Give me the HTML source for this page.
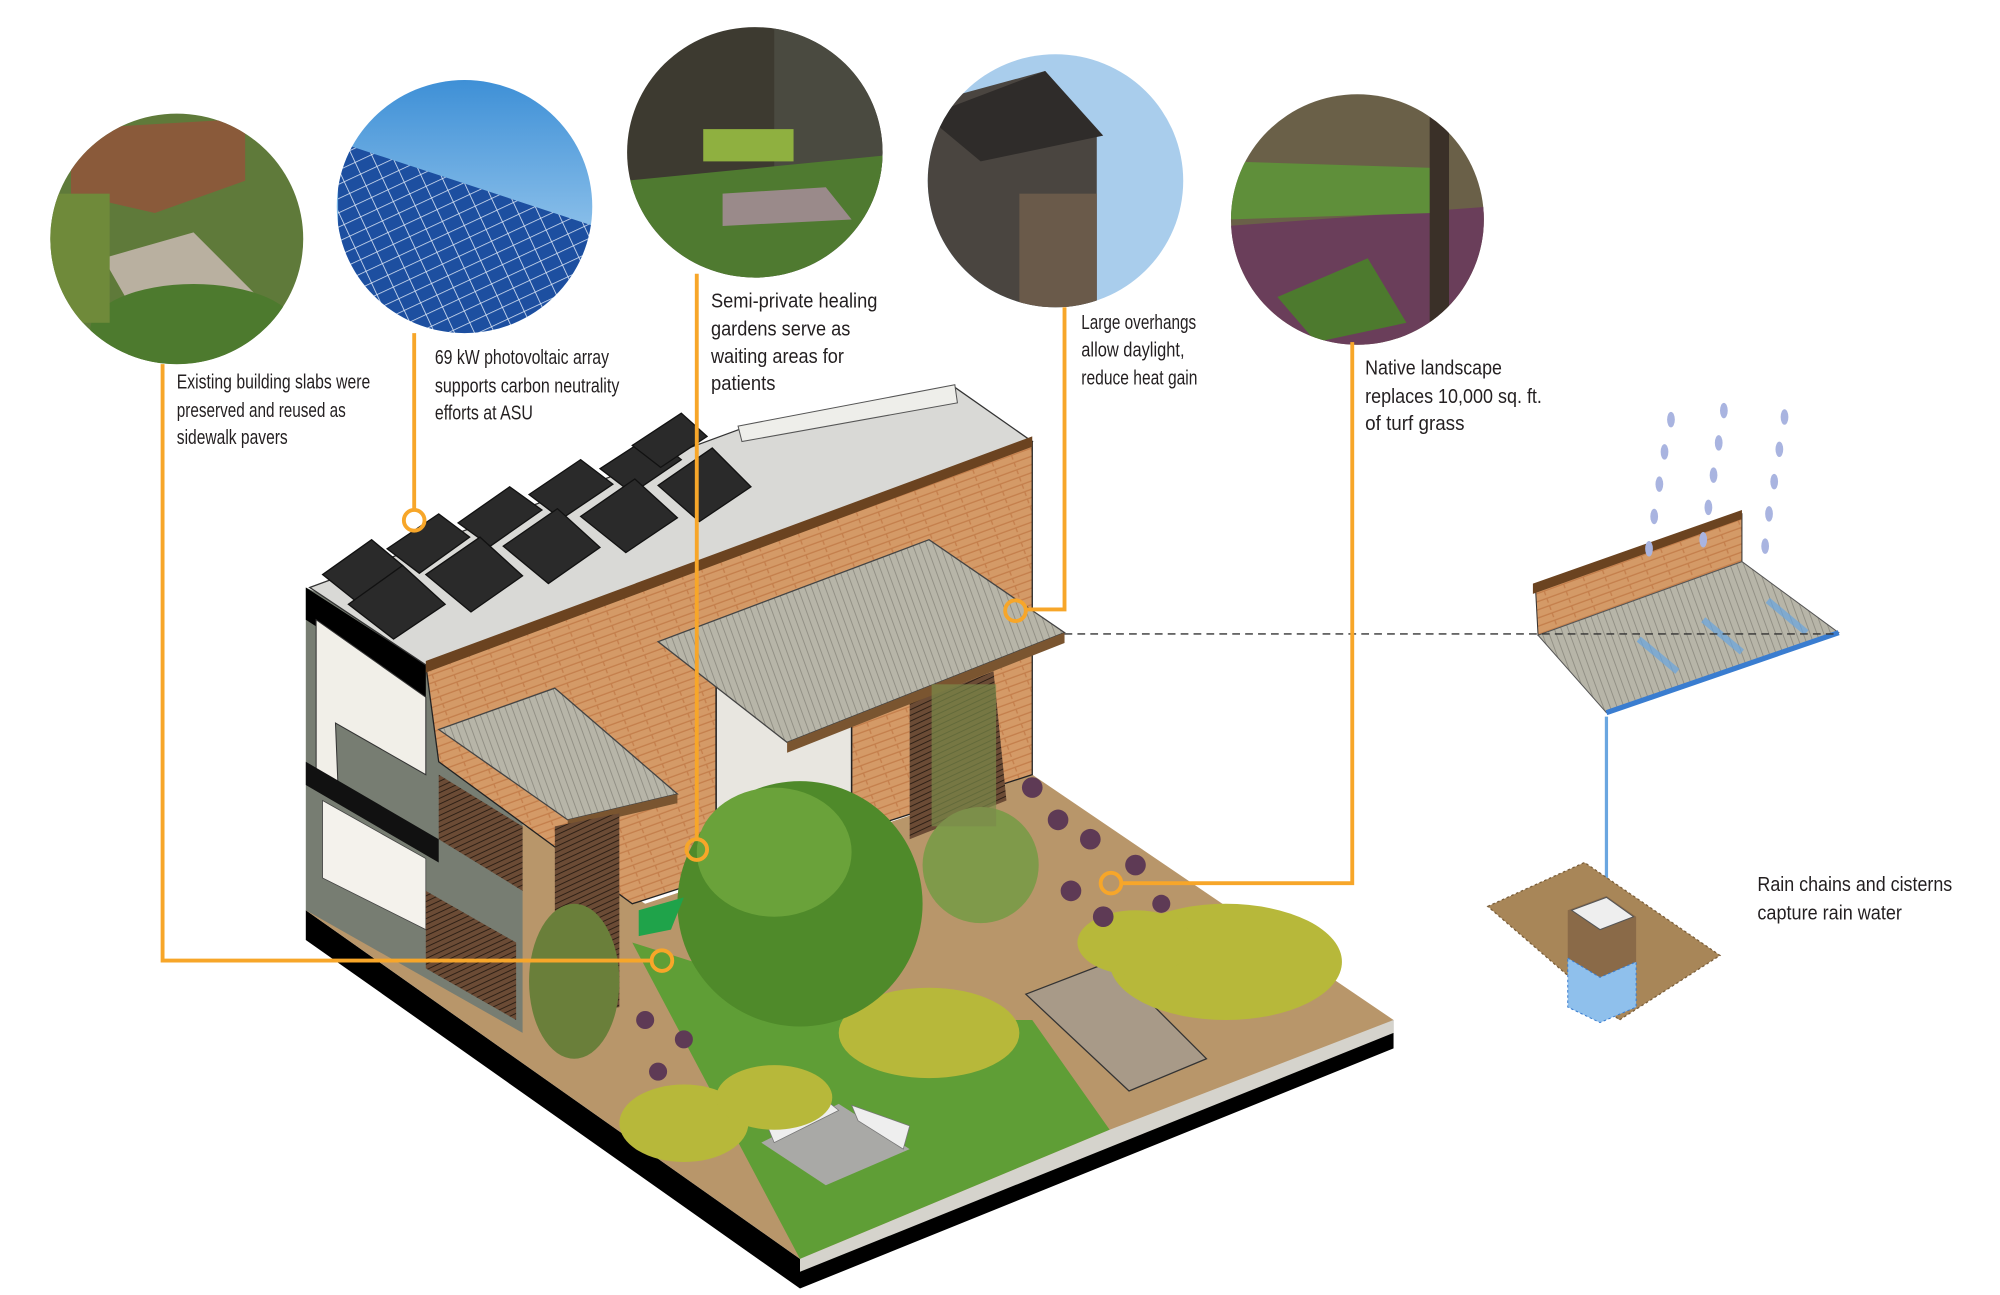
<!DOCTYPE html>
<html><head><meta charset="utf-8"><style>
html,body{margin:0;padding:0;background:#fff;}
svg{display:block;}
.t{font-family:"Liberation Sans",sans-serif;font-size:15.5px;fill:#231f20;}
</style></head><body>
<svg width="2000" height="1295" viewBox="0 0 1550 1003" preserveAspectRatio="none" xmlns="http://www.w3.org/2000/svg">
<defs>
<linearGradient id="sky" x1="0" y1="0" x2="0" y2="1"><stop offset="0" stop-color="#3d8fd6"/><stop offset="1" stop-color="#bfe0f7"/></linearGradient>
<pattern id="pv" width="14" height="10" patternUnits="userSpaceOnUse" patternTransform="rotate(-25)"><rect width="14" height="10" fill="#1d4fa0"/><path d="M0 0H14M0 0V10" stroke="#dfe9f7" stroke-width="1.2"/></pattern>
<pattern id="corr" width="5" height="5" patternUnits="userSpaceOnUse" patternTransform="rotate(-20)"><rect width="5" height="5" fill="#b7b5a8"/><path d="M0 0V5" stroke="#8f8d82" stroke-width="1.4"/></pattern>
<pattern id="brick" width="16" height="6" patternUnits="userSpaceOnUse" patternTransform="rotate(-20)"><rect width="16" height="6" fill="#d49a67"/><path d="M0 5.5H16M8 0V3" stroke="#c47f4c" stroke-width="1"/></pattern>
<pattern id="louv" width="4" height="4" patternUnits="userSpaceOnUse" patternTransform="rotate(-25)"><rect width="4" height="4" fill="#6b4b35"/><path d="M0 0H4" stroke="#2d1f15" stroke-width="1.5"/></pattern>
<clipPath id="c1"><ellipse cx="137" cy="185" rx="98" ry="97"/></clipPath>
<clipPath id="c2"><ellipse cx="360" cy="160" rx="99" ry="98"/></clipPath>
<clipPath id="c3"><ellipse cx="585" cy="118" rx="99" ry="97"/></clipPath>
<clipPath id="c4"><ellipse cx="818" cy="140" rx="99" ry="98"/></clipPath>
<clipPath id="c5"><ellipse cx="1052" cy="170" rx="98" ry="97"/></clipPath>
</defs>

<!-- photo circles -->
<g clip-path="url(#c1)">
<rect x="35" y="85" width="205" height="200" fill="#5f7a3a"/>
<path d="M55 100 L190 92 L190 140 L120 165 L55 150 Z" fill="#8a5a3a"/>
<path d="M80 200 L150 180 L200 230 L120 270 Z" fill="#b9b0a0"/>
<ellipse cx="150" cy="255" rx="80" ry="35" fill="#4d7a2e"/>
<rect x="35" y="150" width="50" height="100" fill="#6f8a3a"/>
</g>
<g clip-path="url(#c2)">
<rect x="258" y="60" width="205" height="200" fill="url(#sky)"/>
<path d="M262 110 L460 175 L460 260 L262 260 Z" fill="url(#pv)"/>
</g>
<g clip-path="url(#c3)">
<rect x="485" y="18" width="205" height="200" fill="#3d3a30"/>
<rect x="600" y="18" width="90" height="120" fill="#4a4a40"/>
<path d="M485 140 L690 120 L690 218 L485 218 Z" fill="#4f7a30"/>
<rect x="545" y="100" width="70" height="25" fill="#8fb040"/>
<path d="M560 150 L640 145 L660 170 L560 175Z" fill="#9a8a8a"/>
</g>
<g clip-path="url(#c4)">
<rect x="718" y="40" width="205" height="200" fill="#a9cdec"/>
<path d="M718 80 L810 55 L850 100 L850 240 L718 240 Z" fill="#4a4540"/>
<path d="M718 90 L810 55 L855 105 L760 125Z" fill="#2f2c2a"/>
<rect x="790" y="150" width="60" height="90" fill="#6a5a4a"/>
</g>
<g clip-path="url(#c5)">
<rect x="952" y="70" width="205" height="200" fill="#6a6048"/>
<path d="M952 175 L1155 160 L1155 270 L952 270 Z" fill="#6a3e5a"/>
<path d="M952 125 L1110 130 L1110 165 L952 170Z" fill="#5f8f3a"/>
<path d="M990 230 L1060 200 L1090 250 L1020 265Z" fill="#4d7a2e"/>
<rect x="1108" y="90" width="15" height="180" fill="#3a3028"/>
</g>

<!-- labels -->
<g class="t">
<text x="137" y="301" textLength="150" lengthAdjust="spacingAndGlyphs">Existing building slabs were</text>
<text x="137" y="323" textLength="131" lengthAdjust="spacingAndGlyphs">preserved and reused as</text>
<text x="137" y="344" textLength="86" lengthAdjust="spacingAndGlyphs">sidewalk pavers</text>
<text x="337" y="282" textLength="135" lengthAdjust="spacingAndGlyphs">69 kW photovoltaic array</text>
<text x="337" y="304" textLength="143" lengthAdjust="spacingAndGlyphs">supports carbon neutrality</text>
<text x="337" y="325" textLength="76" lengthAdjust="spacingAndGlyphs">efforts at ASU</text>
<text x="551" y="238" textLength="129" lengthAdjust="spacingAndGlyphs">Semi-private healing</text>
<text x="551" y="260" textLength="108" lengthAdjust="spacingAndGlyphs">gardens  serve as</text>
<text x="551" y="281" textLength="103" lengthAdjust="spacingAndGlyphs">waiting areas for</text>
<text x="551" y="302" textLength="50" lengthAdjust="spacingAndGlyphs">patients</text>
<text x="838" y="255" textLength="89" lengthAdjust="spacingAndGlyphs">Large overhangs</text>
<text x="838" y="276" textLength="80" lengthAdjust="spacingAndGlyphs">allow daylight,</text>
<text x="838" y="298" textLength="90" lengthAdjust="spacingAndGlyphs">reduce heat gain</text>
<text x="1058" y="290" textLength="106" lengthAdjust="spacingAndGlyphs">Native landscape</text>
<text x="1058" y="312" textLength="137" lengthAdjust="spacingAndGlyphs">replaces 10,000 sq. ft.</text>
<text x="1058" y="333" textLength="77" lengthAdjust="spacingAndGlyphs">of turf grass</text>
<text x="1362" y="690" textLength="151" lengthAdjust="spacingAndGlyphs">Rain chains and cisterns</text>
<text x="1362" y="712" textLength="112" lengthAdjust="spacingAndGlyphs">capture rain water</text>
</g>

<!-- base slab -->
<polygon points="237,705 620,975 1080,790 1080,812 620,998 237,728" fill="#000"/>
<polygon points="237,705 620,975 1080,790 800,600 500,700 330,590" fill="#b8966a"/>
<!-- left section floors -->
<polygon points="237,455 270,470 330,515 340,590 405,630 405,800 237,705" fill="#777d72"/>
<polygon points="237,455 330,515 330,540 237,480" fill="#000"/>
<polygon points="245,480 330,540 330,600 260,560 262,610 245,600" fill="#f1efe8" stroke="#333" stroke-width="0.8"/>
<polygon points="237,590 340,650 340,668 237,608" fill="#111"/>
<polygon points="250,620 330,665 330,720 250,680" fill="#f4f2ec" stroke="#444" stroke-width="0.6"/>
<polygon points="330,690 400,730 400,790 330,750" fill="url(#louv)"/>
<polygon points="340,600 405,640 405,690 340,650" fill="url(#louv)"/>
<!-- roof -->
<polygon points="240,455 580,330 740,300 800,342 330,515" fill="#d9d9d6" stroke="#333" stroke-width="1"/>
<polygon points="572,330 740,298 742,312 575,342" fill="#eeeeea" stroke="#555" stroke-width="0.8"/>
<!-- brick wall -->
<polygon points="330,515 800,342 800,600 490,700 340,590" fill="url(#brick)" stroke="#222" stroke-width="1"/>
<polygon points="330,512 800,338 800,346 330,521" fill="#6b4320"/>
<!-- solar panels -->
<g fill="#2a2a2a" stroke="#111" stroke-width="1">
<polygon points="250,445 288,418 312,438 275,465"/>
<polygon points="300,425 340,398 364,416 325,444"/>
<polygon points="355,405 395,377 420,395 380,423"/>
<polygon points="410,383 450,356 475,375 435,402"/>
<polygon points="465,363 505,337 528,356 490,382"/>
<polygon points="270,468 312,438 345,468 305,495"/>
<polygon points="330,445 372,416 405,446 365,474"/>
<polygon points="390,423 432,394 465,424 425,452"/>
<polygon points="450,400 492,371 525,401 485,428"/>
<polygon points="510,376 552,347 582,377 542,404"/>
<polygon points="490,345 528,320 548,338 512,362"/>
</g>
<!-- big overhang -->
<polygon points="555,530 660,490 660,640 555,660" fill="#e8e6e0" stroke="#222" stroke-width="1.2"/>
<polygon points="705,545 770,520 780,620 705,650" fill="url(#louv)"/>
<polygon points="510,497 720,418 825,490 610,575" fill="url(#corr)" stroke="#444" stroke-width="1"/>
<polygon points="610,575 825,490 825,498 610,583" fill="#7a5530"/>
<!-- small overhang -->
<polygon points="340,565 430,533 525,615 440,635" fill="url(#corr)" stroke="#444" stroke-width="1"/>
<polygon points="440,635 525,615 525,622 440,642" fill="#7a5530"/>
<polygon points="430,640 480,630 480,780 430,790" fill="url(#louv)"/>
<!-- garden -->
<polygon points="490,730 620,975 860,875 800,790 680,790" fill="#5f9e36"/>
<polygon points="795,770 860,745 935,820 875,845" fill="#a89a88" stroke="#333" stroke-width="1"/>
<polygon points="860,875 1080,790 1080,800 620,985 620,975" fill="#d5d3cc"/>
<polygon points="590,885 650,855 705,890 640,918" fill="#a9a9a6"/>
<polygon points="593,868 640,852 650,860 600,885" fill="#eee" stroke="#777" stroke-width="0.6"/>
<polygon points="660,856 705,872 700,890 665,868" fill="#eee" stroke="#777" stroke-width="0.6"/>
<g fill="#b7b83a">
<ellipse cx="950" cy="745" rx="90" ry="45"/><ellipse cx="880" cy="730" rx="45" ry="25"/>
<ellipse cx="720" cy="800" rx="70" ry="35"/><ellipse cx="530" cy="870" rx="50" ry="30"/>
<ellipse cx="600" cy="850" rx="45" ry="25"/>
</g>
<g fill="#5e3a55">
<circle cx="800" cy="610" r="8"/><circle cx="820" cy="635" r="8"/><circle cx="845" cy="650" r="8"/><circle cx="830" cy="690" r="8"/><circle cx="880" cy="670" r="8"/><circle cx="855" cy="710" r="8"/><circle cx="900" cy="700" r="7"/><circle cx="500" cy="790" r="7"/><circle cx="530" cy="805" r="7"/><circle cx="510" cy="830" r="7"/>
</g>
<ellipse cx="620" cy="700" rx="95" ry="95" fill="#4f8a2a"/>
<ellipse cx="600" cy="660" rx="60" ry="50" fill="#6aa23a"/>
<ellipse cx="760" cy="670" rx="45" ry="45" fill="#7f9a4a"/>
<ellipse cx="445" cy="760" rx="35" ry="60" fill="#6a7f3a"/>
<rect x="722" y="530" width="50" height="110" fill="#7a8a4a" opacity="0.7"/>
<polygon points="495,705 530,695 520,720 495,725" fill="#1fa34a"/>

<!-- right rain diagram -->
<polygon points="1190,455 1350,398 1350,437 1192,492" fill="url(#brick)" stroke="#333" stroke-width="0.8"/>
<polygon points="1188,452 1350,395 1350,402 1188,460" fill="#6b4320"/>
<polygon points="1192,492 1350,435 1425,490 1245,552" fill="url(#corr)" stroke="#555" stroke-width="0.8"/>
<line x1="1245" y1="552" x2="1425" y2="490" stroke="#3a7dd0" stroke-width="4"/>
<line x1="1245" y1="555" x2="1245" y2="700" stroke="#6aa6e0" stroke-width="2.5"/>
<g stroke="#6aa6e0" stroke-width="5" opacity="0.7">
<line x1="1270" y1="495" x2="1300" y2="520"/><line x1="1320" y1="480" x2="1350" y2="505"/><line x1="1370" y1="465" x2="1400" y2="490"/>
</g>
<g fill="#a9b4e0">
<ellipse cx="1295" cy="325" rx="3" ry="6"/><ellipse cx="1290" cy="350" rx="3" ry="6"/><ellipse cx="1286" cy="375" rx="3" ry="6"/><ellipse cx="1282" cy="400" rx="3" ry="6"/><ellipse cx="1278" cy="425" rx="3" ry="6"/>
<ellipse cx="1336" cy="318" rx="3" ry="6"/><ellipse cx="1332" cy="343" rx="3" ry="6"/><ellipse cx="1328" cy="368" rx="3" ry="6"/><ellipse cx="1324" cy="393" rx="3" ry="6"/><ellipse cx="1320" cy="418" rx="3" ry="6"/>
<ellipse cx="1383" cy="323" rx="3" ry="6"/><ellipse cx="1379" cy="348" rx="3" ry="6"/><ellipse cx="1375" cy="373" rx="3" ry="6"/><ellipse cx="1371" cy="398" rx="3" ry="6"/><ellipse cx="1368" cy="423" rx="3" ry="6"/>
</g>
<polygon points="1153,702 1228,668 1333,740 1255,790" fill="#a88658" stroke="#7a5e3a" stroke-width="1" stroke-dasharray="2,2"/>
<polygon points="1215,705 1245,694 1268,710 1268,745 1240,757 1215,742" fill="#8a6a48"/>
<polygon points="1218,705 1245,695 1266,710 1240,720" fill="#eee" stroke="#555" stroke-width="0.8"/>
<polygon points="1215,742 1240,757 1268,745 1268,780 1240,792 1215,780" fill="#8fc0ec" stroke="#3a7dd0" stroke-width="0.8" stroke-dasharray="2,2"/>

<!-- dashed connector -->
<line x1="825" y1="491" x2="1425" y2="491" stroke="#333" stroke-width="1" stroke-dasharray="6,4"/>

<!-- orange leaders -->
<g fill="none" stroke="#f7a629" stroke-width="3">
<polyline points="126,282 126,744 504,744"/>
<circle cx="513" cy="744" r="8"/>
<line x1="321" y1="258" x2="321" y2="395"/>
<circle cx="321" cy="403" r="8"/>
<line x1="540" y1="212" x2="540" y2="650"/>
<circle cx="540" cy="658" r="8"/>
<polyline points="825,238 825,472 795,472"/>
<circle cx="787" cy="473" r="8"/>
<polyline points="1048,265 1048,684 869,684"/>
<circle cx="861" cy="684" r="8"/>
</g>
</svg>
</body></html>
